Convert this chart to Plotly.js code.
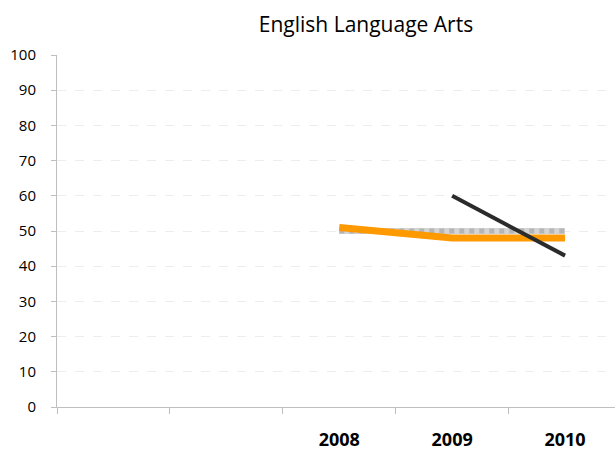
<!DOCTYPE html>
<html>
<head>
<meta charset="utf-8">
<script src="https://cdn.plot.ly/plotly-3.0.1.min.js"></script>
<style>html,body{margin:0;padding:0;background:#fff;}#chart{width:615px;height:452px;}</style>
</head>
<body>
<div id="chart"></div>
<script>
// categories on the x axis (first two are unlabeled)
const categories = [" ", "  ", "2008", "2009", "2010"];
const years = ["2008", "2009", "2010"];
const benchmark = [50, 50, 50];          // gray patterned line
const orangeSeries = [51, 48, 48];       // orange line
const blackYears = ["2009", "2010"];
const blackSeries = [60, 43];            // black line
const yTicks = [0, 10, 20, 30, 40, 50, 60, 70, 80, 90, 100];

const traces = [
  {x: categories, y: categories.map(() => null), type: "scatter", mode: "lines",
   showlegend: false, hoverinfo: "skip"},
  {x: years, y: benchmark, type: "scatter", mode: "lines",
   line: {color: "#d4d4d4", width: 6}, showlegend: false},
  {x: years, y: benchmark, type: "scatter", mode: "lines",
   line: {color: "#9a9a9a", width: 5, dash: "dot"}, opacity: 0.55, showlegend: false},
  {x: years, y: orangeSeries, type: "scatter", mode: "lines",
   line: {color: "#FF9900", width: 7}, showlegend: false},
  {x: blackYears, y: blackSeries, type: "scatter", mode: "lines",
   line: {color: "#2b2b2b", width: 4}, showlegend: false}
];

const layout = {
  width: 615, height: 452,
  margin: {l: 56.5, r: 0, t: 55, b: 45, pad: 0},
  paper_bgcolor: "#fff", plot_bgcolor: "#fff",
  font: {family: "Open Sans, Lato, sans-serif", color: "#000"},
  title: {text: "English Language Arts", x: 366/615, xref: "container", xanchor: "center",
          y: 1 - 25/452, yref: "container", yanchor: "middle",
          font: {size: 21, family: "Open Sans, sans-serif", color: "#000"}},
  xaxis: {type: "category", categoryorder: "array", categoryarray: categories,
          range: [-0.5, 4.4425], tickson: "boundaries", ticks: "outside", ticklen: 6,
          tickcolor: "#bfbfbf", tickwidth: 1,
          showline: true, linecolor: "#bfbfbf", linewidth: 1,
          showgrid: false, zeroline: false,
          tickfont: {size: 18, family: "Open Sans, sans-serif", weight: "bold", color: "#000"},
          ticklabelstandoff: 16, fixedrange: true},
  yaxis: {range: [0, 100], tickvals: yTicks, ticks: "outside", ticklen: 5,
          tickcolor: "#bfbfbf", showline: true, linecolor: "#bfbfbf", linewidth: 1,
          showgrid: true, gridcolor: "#ededed", griddash: "dash", gridwidth: 1,
          zeroline: false, tickfont: {size: 15, color: "#000"}, ticklabelstandoff: 12,
          fixedrange: true}
};

Plotly.newPlot("chart", traces, layout, {displayModeBar: false, staticPlot: true});
</script>
</body>
</html>
